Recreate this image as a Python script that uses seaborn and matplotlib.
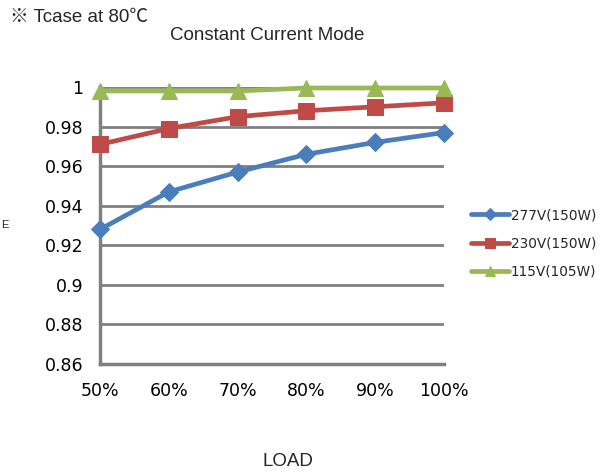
import numpy as np
import pandas as pd
import matplotlib
matplotlib.use('Agg')
import matplotlib.pyplot as plt
import seaborn as sns

# ─── DATA ─────────────────────────────────────────────────
load_labels = ['50%', '60%', '70%', '80%', '90%', '100%']
eff_277 = [0.928, 0.947, 0.957, 0.966, 0.972, 0.977]
eff_230 = [0.971, 0.979, 0.985, 0.988, 0.990, 0.992]
eff_115 = [0.998, 0.998, 0.998, 0.9995, 0.9995, 0.9995]
series_names = ['277V(150W)', '230V(150W)', '115V(105W)']
y_ticks = [0.86, 0.88, 0.9, 0.92, 0.94, 0.96, 0.98, 1]
y_tick_labels = ['0.86', '0.88', '0.9', '0.92', '0.94', '0.96', '0.98', '1']

df = pd.DataFrame({
    'load': list(range(len(load_labels))) * 3,
    'eff': eff_277 + eff_230 + eff_115,
    'series': [s for s in series_names for _ in load_labels],
})

# ─── STYLE ────────────────────────────────────────────────
sns.set_style('white')
plt.rcParams['font.family'] = ['DejaVu Sans']
colors = {'277V(150W)': '#4A7EBB', '230V(150W)': '#BE4B48', '115V(105W)': '#98B954'}
markers = {'277V(150W)': 'D', '230V(150W)': 's', '115V(105W)': '^'}
msizes = {'277V(150W)': 9, '230V(150W)': 11, '115V(105W)': 12}
narrow = ['Liberation Sans Narrow', 'Liberation Sans', 'DejaVu Sans']

fig = plt.figure(figsize=(6.12, 4.73), dpi=100)
ax = fig.add_axes([100 / 612, 1 - 364 / 473, 344 / 612, 277 / 473])

for name in series_names:
    sub = df[df['series'] == name]
    sns.lineplot(data=sub, x='load', y='eff', ax=ax, color=colors[name],
                 marker=markers[name], markersize=msizes[name],
                 markeredgecolor=colors[name], linewidth=3.4,
                 label=name, clip_on=False, zorder=3)

ax.set_xlim(0, len(load_labels) - 1)
ax.set_ylim(0.86, 1.0)
ax.set_xticks(range(len(load_labels)))
ax.set_xticklabels(load_labels)
ax.set_yticks(y_ticks)
ax.set_yticklabels(y_tick_labels)
ax.yaxis.grid(True, color='#808080', linewidth=2)
ax.set_axisbelow(True)
for side in ['top', 'right']:
    ax.spines[side].set_visible(False)
for side in ['left', 'bottom']:
    ax.spines[side].set_color('#808080')
    ax.spines[side].set_linewidth(2.5)
ax.tick_params(axis='both', length=6, width=2, color='#808080',
               labelsize=12.5, labelcolor='black', direction='out')
ax.tick_params(axis='x', pad=7)
ax.tick_params(axis='y', pad=6)
ax.set_xlabel('')
ax.set_ylabel('')

# legend sits to the right of the plot area
leg = ax.legend(loc='center left', bbox_to_anchor=(1.042, 0.435),
                frameon=False, fontsize=9.8, handlelength=2.8,
                labelspacing=1.05, handletextpad=0.15, markerscale=0.65)

fig.text(170 / 612, 1 - 35 / 473, 'Constant Current Mode', fontsize=13.5,
         family=narrow, ha='left', va='center')
fig.text(10 / 612, 1 - 18 / 473, '※ Tcase at 80℃', fontsize=13.5,
         family=['Liberation Sans', 'Noto Sans CJK SC', 'DejaVu Sans'],
         ha='left', va='center')
fig.text(288 / 612, 1 - 461 / 473, 'LOAD', fontsize=13.5, family=narrow,
         ha='center', va='center')
fig.text(1 / 612, 1 - 225 / 473, 'E', fontsize=8, family=narrow,
         ha='left', va='center')

fig.savefig('out.png', dpi=100)
